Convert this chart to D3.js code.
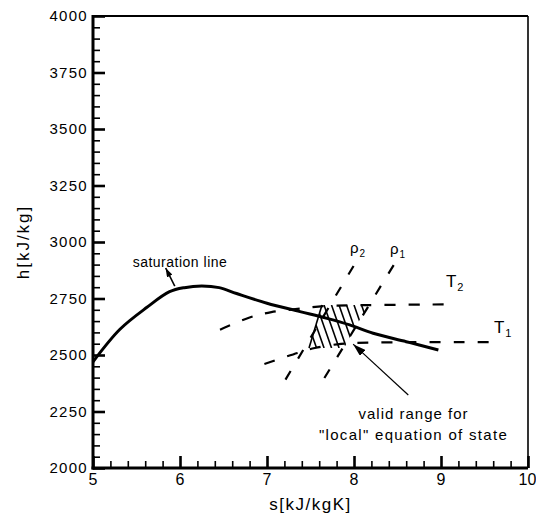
<!DOCTYPE html>
<html>
<head>
<meta charset="utf-8">
<script src="https://cdn.jsdelivr.net/npm/d3@7"></script>
<style>
  html, body { margin: 0; padding: 0; background: #fff; }
  svg { display: block; font-family: "Liberation Sans", Arial, sans-serif; }
</style>
</head>
<body>
<svg id="chart" width="536" height="514"></svg>
<script>
// Saturation line of water vapour in the h-s plane
const satS = [5.0, 5.31, 5.62, 5.88, 6.05, 6.25, 6.45, 6.65, 7.0, 7.38, 7.69, 7.95, 8.22, 8.6, 8.97];
const satH = [2470, 2614, 2711, 2780, 2798, 2805, 2798, 2772, 2729, 2692, 2662, 2633, 2596, 2559, 2522];

// Isotherms T2 (upper) and T1 (lower)
const t2S = [6.46, 6.8, 7.05, 7.35, 7.65, 8.0, 9.12];
const t2H = [2612, 2666, 2690, 2704, 2716, 2720, 2724];
const t1S = [6.97, 7.35, 7.55, 7.85, 8.2, 9.64];
const t1H = [2460, 2509, 2531, 2549, 2555, 2557];

// Isochores rho2 (left) and rho1 (right)
const rho2S = [7.995, 7.189];
const rho2H = [2894, 2376];
const rho1S = [8.456, 7.624];
const rho1H = [2898, 2376];

// Corners of the validity range of the local equation of state
const rangeS = [7.632, 8.161, 7.885, 7.483];
const rangeH = [2721, 2721, 2531, 2531];

// Annotation arrows: [tail s, tail h, head s, head h]
const satArrow = [5.94, 2805, 5.835, 2885];
const rangeArrow = [8.624, 2323, 7.99, 2548];

// Ticks
const xMajor = [5, 6, 7, 8, 9, 10];
const xMinor = d3.range(5, 10.001, 0.2).map(v => +v.toFixed(1)).filter(v => Math.abs(v - Math.round(v)) > 1e-6);
const yMajor = [2000, 2250, 2500, 2750, 3000, 3250, 3500, 3750, 4000];
const yMinor = d3.range(2000, 4001, 50).filter(v => v % 250 !== 0);

const xTitle = "s[kJ/kgK]";
const yTitle = "h[kJ/kg]";

const svg = d3.select("#chart");
const x = d3.scaleLinear().domain([5, 10]).range([93, 528]);
const y = d3.scaleLinear().domain([2000, 4000]).range([468, 16]);

const zip = (a, b) => a.map((v, i) => [v, b[i]]);
const line = d3.line().x(d => x(d[0])).y(d => y(d[1]));
const smooth = d3.line().x(d => x(d[0])).y(d => y(d[1])).curve(d3.curveCatmullRom.alpha(0.5));

// ---- axes ----
function tidy(g, w) {
  g.select(".domain").remove();
  g.selectAll(".tick line").attr("stroke", "#000").attr("stroke-width", w);
}
const gxMinor = svg.append("g").attr("transform", `translate(0,${y(2000)})`)
  .call(d3.axisBottom(x).tickValues(xMinor).tickSize(-7).tickFormat(""));
tidy(gxMinor, 1.6);
const gx = svg.append("g").attr("transform", `translate(0,${y(2000)})`)
  .call(d3.axisBottom(x).tickValues(xMajor).tickSize(-12).tickPadding(6).tickFormat(d3.format("d")));
tidy(gx, 2.6);
gx.selectAll("text").attr("fill", "#000").attr("font-size", 16).attr("letter-spacing", 1)
  .attr("font-family", "Liberation Sans, Arial, sans-serif");
// keep the last label inside the page
gx.selectAll("text").filter(d => d === 10).attr("letter-spacing", 0).attr("dx", -1);

const gyMinor = svg.append("g").attr("transform", `translate(${x(5)},0)`)
  .call(d3.axisLeft(y).tickValues(yMinor).tickSize(-7).tickFormat(""));
tidy(gyMinor, 1.6);
const gy = svg.append("g").attr("transform", `translate(${x(5)},0)`)
  .call(d3.axisLeft(y).tickValues(yMajor).tickSize(-12).tickPadding(5).tickFormat(d3.format("d")));
tidy(gy, 2.6);
gy.selectAll("text").attr("fill", "#000").attr("font-size", 15).attr("letter-spacing", 1.3)
  .attr("font-family", "Liberation Sans, Arial, sans-serif");

// frame
svg.append("line").attr("x1", x(5)).attr("x2", x(10)).attr("y1", y(4000)).attr("y2", y(4000))
  .attr("stroke", "#000").attr("stroke-width", 2);
svg.append("line").attr("x1", x(10)).attr("x2", x(10)).attr("y1", y(4000)).attr("y2", y(2000))
  .attr("stroke", "#000").attr("stroke-width", 1.6);
svg.append("line").attr("x1", x(5)).attr("x2", x(5)).attr("y1", y(4000) - 1).attr("y2", y(2000) + 1.5)
  .attr("stroke", "#000").attr("stroke-width", 3);
svg.append("line").attr("x1", x(5) - 1.5).attr("x2", x(10)).attr("y1", y(2000)).attr("y2", y(2000))
  .attr("stroke", "#000").attr("stroke-width", 3);

// axis titles
svg.append("text").attr("x", (x(5) + x(10)) / 2).attr("y", 510)
  .attr("text-anchor", "middle").attr("font-size", 17).attr("letter-spacing", 1.5).text(xTitle);
svg.append("text").attr("transform", `translate(29,${(y(2000) + y(4000)) / 2}) rotate(-90)`)
  .attr("text-anchor", "middle").attr("font-size", 17).attr("letter-spacing", 2).text(yTitle);

// ---- valid range (hatched) ----
const rangePts = zip(rangeS, rangeH);
svg.append("clipPath").attr("id", "rangeClip")
  .append("path").attr("d", line(rangePts) + "Z");
const rx = rangePts.map(d => x(d[0])), ry = rangePts.map(d => y(d[1]));
const hatchTop = d3.min(ry), hatchBot = d3.max(ry);
const slant = 0.35;
svg.append("g").attr("clip-path", "url(#rangeClip)")
  .selectAll("line").data(d3.range(d3.min(rx) - 30, d3.max(rx) + 10, 7.5)).join("line")
  .attr("x1", d => d).attr("y1", hatchTop)
  .attr("x2", d => d + slant * (hatchBot - hatchTop)).attr("y2", hatchBot)
  .attr("stroke", "#000").attr("stroke-width", 1.6);
svg.append("path").attr("d", line([rangePts[3], rangePts[0]]))
  .attr("stroke", "#000").attr("stroke-width", 1.6).attr("fill", "none");

// ---- isolines ----
const dashed = (pts, dash, path) => svg.append("path").attr("d", path(pts))
  .attr("fill", "none").attr("stroke", "#000").attr("stroke-width", 2.2)
  .attr("stroke-dasharray", dash);
dashed(zip(t2S, t2H), "11,13", smooth);
dashed(zip(t1S, t1H), "11,13", smooth);
dashed(zip(rho2S, rho2H), "10,14.5", line);
dashed(zip(rho1S, rho1H), "10,14.5", line);

// ---- saturation line ----
svg.append("path").attr("d", smooth(zip(satS, satH)))
  .attr("fill", "none").attr("stroke", "#000").attr("stroke-width", 3)
  .attr("stroke-linejoin", "round");

// ---- arrows ----
const defs = svg.append("defs");
function marker(id, len, wid) {
  defs.append("marker").attr("id", id).attr("markerUnits", "userSpaceOnUse")
    .attr("viewBox", `0 0 ${len} ${wid}`).attr("refX", len).attr("refY", wid / 2)
    .attr("markerWidth", len).attr("markerHeight", wid).attr("orient", "auto")
    .append("path").attr("d", `M0,0L${len},${wid / 2}L0,${wid}Z`).attr("fill", "#000");
}
marker("headSmall", 9, 6);
marker("headBig", 13, 8);
svg.append("line")
  .attr("x1", x(satArrow[0])).attr("y1", y(satArrow[1]))
  .attr("x2", x(satArrow[2])).attr("y2", y(satArrow[3]))
  .attr("stroke", "#000").attr("stroke-width", 1.6).attr("marker-end", "url(#headSmall)");
svg.append("line")
  .attr("x1", x(rangeArrow[0])).attr("y1", y(rangeArrow[1]))
  .attr("x2", x(rangeArrow[2])).attr("y2", y(rangeArrow[3]))
  .attr("stroke", "#000").attr("stroke-width", 1.2).attr("marker-end", "url(#headBig)");

// ---- labels ----
svg.append("text").attr("x", x(6.0)).attr("y", y(2891)).attr("text-anchor", "middle")
  .attr("font-size", 14).attr("letter-spacing", 0.5).text("saturation line");
const note = svg.append("text").attr("text-anchor", "middle").attr("font-size", 15).attr("letter-spacing", 1);
note.append("tspan").attr("x", x(8.684)).attr("y", y(2215)).text("valid range for");
note.append("tspan").attr("x", x(8.684)).attr("y", y(2126)).attr("letter-spacing", 1.3)
  .text("\"local\" equation of state");

function subLabel(s, h, main, sub, size, subSize, drop) {
  const t = svg.append("text").attr("x", x(s)).attr("y", y(h)).attr("font-size", size);
  t.append("tspan").text(main);
  t.append("tspan").attr("font-size", subSize).attr("dy", drop).attr("dx", 1).text(sub);
}
subLabel(7.954, 2951, "ρ", "2", 15, 10, 4);
subLabel(8.414, 2947, "ρ", "1", 15, 10, 4);
subLabel(9.057, 2801, "T", "2", 17, 11, 4);
subLabel(9.609, 2597, "T", "1", 17, 11, 4);
</script>
</body>
</html>
